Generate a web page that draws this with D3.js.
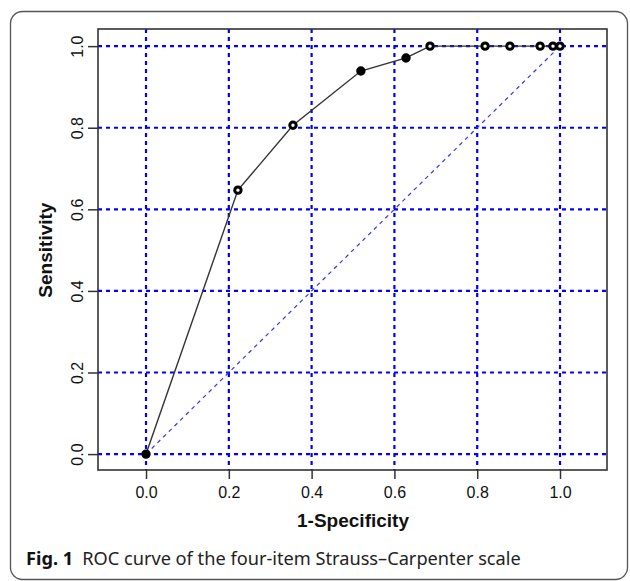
<!DOCTYPE html>
<html>
<head>
<meta charset="utf-8">
<script src="https://cdn.jsdelivr.net/npm/d3@7"></script>
<style>
  body { margin: 0; background: #fff; }
  svg { display: block; }
  .tick-lab { font-family: "Liberation Sans", Arial, sans-serif; font-size: 16px; fill: #111; }
  .ax-title { font-family: "Liberation Sans", Arial, sans-serif; font-size: 19px; font-weight: bold; fill: #111; }
  .caption { font-family: "Noto Sans", "Open Sans", sans-serif; font-size: 18.2px; fill: #222; }
</style>
</head>
<body>
<script>
// ROC points
var fpr  = [0, 0.222, 0.355, 0.519, 0.628, 0.686, 0.819, 0.879, 0.952, 0.983, 1.0];
var sens = [0, 0.647, 0.806, 0.939, 0.971, 1.0, 1.0, 1.0, 1.0, 1.0, 1.0];
// solid dots vs ringed dots
var solid = [true, false, false, true, true, false, false, false, false, false, false];
var ticks = [0, 0.2, 0.4, 0.6, 0.8, 1.0];

var W = 630, H = 581;
var plot = {left: 98, top: 29, right: 607, bottom: 470};

var svg = d3.select("body").append("svg")
    .attr("width", W)
    .attr("height", H);

// outer figure frame
svg.append("rect")
    .attr("x", 10.5).attr("y", 11.5)
    .attr("width", 617).attr("height", 568)
    .attr("rx", 12).attr("ry", 12)
    .attr("fill", "none")
    .attr("stroke", "#555")
    .attr("stroke-width", 1.3);

var x = d3.scaleLinear()
    .domain([-0.116, 1.1135])
    .range([plot.left, plot.right]);
var y = d3.scaleLinear()
    .domain([-0.039, 1.042])
    .range([plot.bottom, plot.top]);

//grid
var grid = svg.append("g");
grid.selectAll(".vg").data(ticks).enter().append("line")
    .attr("x1", function(d) { return x(d); })
    .attr("x2", function(d) { return x(d); })
    .attr("y1", plot.top).attr("y2", plot.bottom)
    .attr("stroke", "#0000ff").attr("stroke-width", 2.2)
    .attr("stroke-dasharray", "4,4");
grid.selectAll(".hg").data(ticks).enter().append("line")
    .attr("y1", function(d) { return y(d); })
    .attr("y2", function(d) { return y(d); })
    .attr("x1", plot.left).attr("x2", plot.right)
    .attr("stroke", "#0000ff").attr("stroke-width", 2.2)
    .attr("stroke-dasharray", "4,4");

// chance diagonal
svg.append("line")
    .attr("x1", x(0)).attr("y1", y(0))
    .attr("x2", x(1)).attr("y2", y(1))
    .attr("stroke", "#3333ff").attr("stroke-width", 1.2)
    .attr("stroke-dasharray", "4,4");

// axes
var xAxis = d3.axisBottom(x).tickValues(ticks).tickSize(9).tickPadding(8)
    .tickFormat(d3.format(".1f"));
var yAxis = d3.axisLeft(y).tickValues(ticks).tickSize(10).tickPadding(0)
    .tickFormat(d3.format(".1f"));

var gx = svg.append("g")
    .attr("transform", "translate(0," + plot.bottom + ")")
    .call(xAxis);
gx.select(".domain").remove();
gx.selectAll("line").attr("stroke", "#333").attr("stroke-width", 1.5);
gx.selectAll("text").attr("class", "tick-lab").attr("font-size", null).attr("font-family", null);

var gy = svg.append("g")
    .attr("transform", "translate(" + plot.left + ",0)")
    .call(yAxis);
gy.select(".domain").remove();
gy.selectAll("line").attr("stroke", "#333").attr("stroke-width", 1.5);
gy.selectAll("text")
    .attr("class", "tick-lab").attr("font-size", null).attr("font-family", null)
    .attr("x", 0).attr("y", 0)
    .attr("text-anchor", "middle")
    .attr("transform", "translate(-21,0) rotate(-90)")
    .attr("dy", "0.35em");

// plot box
svg.append("rect")
    .attr("x", plot.left).attr("y", plot.top)
    .attr("width", plot.right - plot.left)
    .attr("height", plot.bottom - plot.top)
    .attr("fill", "none")
    .attr("stroke", "#333")
    .attr("stroke-width", 1.6);

// ROC curve
var pts = fpr.map(function(d, i) { return {x: d, y: sens[i], solid: solid[i]}; });
var line = d3.line()
    .x(function(d) { return x(d.x); })
    .y(function(d) { return y(d.y); });

svg.append("path")
    .datum(pts)
    .attr("d", line)
    .attr("fill", "none")
    .attr("stroke", "#333")
    .attr("stroke-width", 1.4);

svg.selectAll(".pt").data(pts).enter().append("circle")
    .attr("cx", function(d) { return x(d.x); })
    .attr("cy", function(d) { return y(d.y); })
    .attr("r", 3.2)
    .attr("fill", function(d) { return d.solid ? "#000" : "#fff"; })
    .attr("stroke", "#000")
    .attr("stroke-width", 3);

// axis titles
svg.append("text")
    .attr("class", "ax-title")
    .attr("x", x(0.5)).attr("y", 527)
    .attr("text-anchor", "middle")
    .text("1-Specificity");

svg.append("text")
    .attr("class", "ax-title")
    .attr("transform", "translate(52," + y(0.5) + ") rotate(-90)")
    .attr("text-anchor", "middle")
    .text("Sensitivity");

// caption
var cap = svg.append("text")
    .attr("class", "caption")
    .attr("x", 26).attr("y", 565);
cap.append("tspan").attr("font-weight", "bold").attr("fill", "#111").text("Fig. 1");
cap.append("tspan").attr("dx", 9).text("ROC curve of the four-item Strauss\u2013Carpenter scale");
</script>
</body>
</html>
